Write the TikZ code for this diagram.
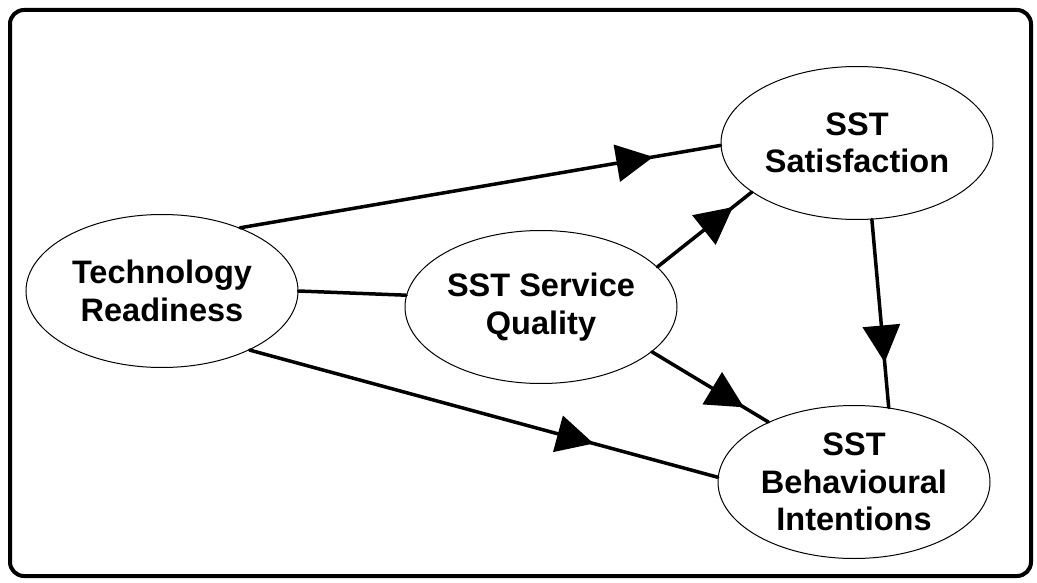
\documentclass[tikz,border=0pt]{standalone}
\usepackage{fontspec}
\setmainfont{Liberation Sans}
\usetikzlibrary{shapes.geometric,arrows.meta,decorations.markings}

\tikzset{
  construct/.style={draw=black, line width=1pt, ellipse, minimum width=272pt,
    minimum height=153pt, inner sep=0pt},
  caption/.style={font=\bfseries\fontsize{32.5}{37.5}\selectfont, align=center,
    inner sep=0pt},
  link/.style={line width=3.5pt, line cap=round},
  midarrow/.style={link, decoration={markings,
      mark=at position #1 with {\arrow{Triangle[length=37pt,width=37pt]}}},
    postaction={decorate}},
}

\begin{document}
\begin{tikzpicture}[x=1pt, y=-1pt]
  \useasboundingbox (0,0) rectangle (1037,583);

  % outer frame
  \draw[line width=4pt, rounded corners=14pt] (10,10) rectangle (1031,576);

  % constructs
  \node[construct, label={[caption]center:Technology\\Readiness}] (tr) at (162,291) {};
  \node[construct, label={[caption]center:SST Service\\Quality\hspace{26pt}}] (sq) at (541,307) {};
  \node[construct, label={[caption]center:SST\hspace{18pt}\\Satisfaction}] (sat) at (857,143) {};
  \node[construct, label={[caption]center:SST\hspace{16pt}\\Behavioural\\Intentions}] (bi) at (854,482) {};

  % paths
  \draw[link] (tr.0) -- (sq.175);
  \draw[midarrow=0.86] (tr.39) -- (sat.181);
  \draw[midarrow=0.8] (sq.19) -- (sat.205.5);
  \draw[midarrow=0.76] (sat.281) -- (bi.65);
  \draw[midarrow=0.79] (sq.338) -- (bi.145);
  \draw[midarrow=0.735] (tr.326) -- (bi.178);
\end{tikzpicture}
\end{document}
